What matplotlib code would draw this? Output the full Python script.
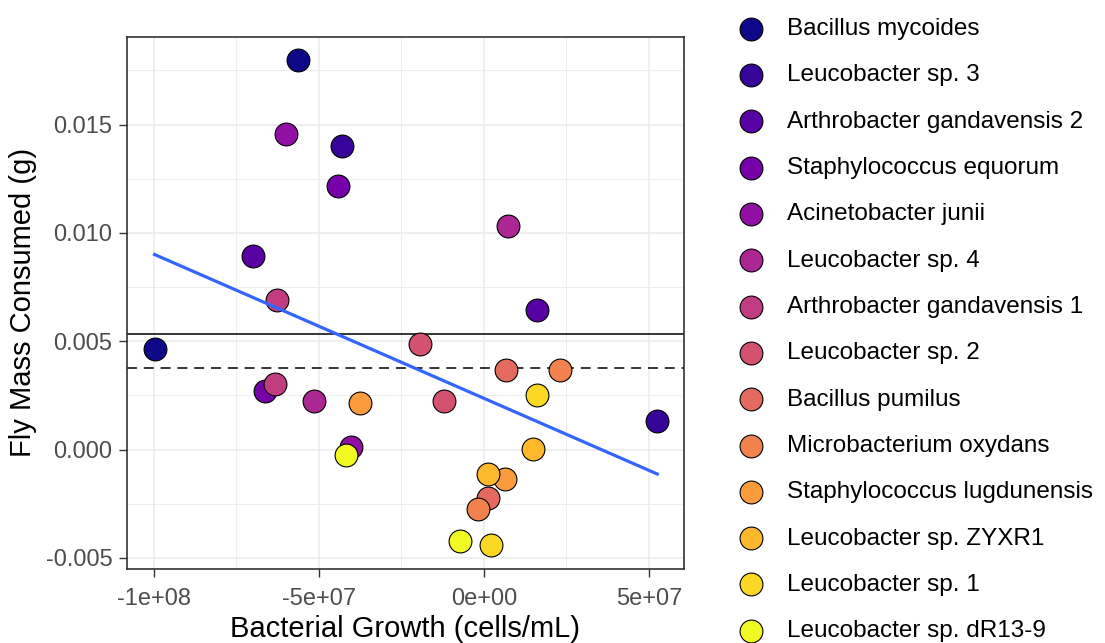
import numpy as np
import matplotlib
matplotlib.use("Agg")
import matplotlib.pyplot as plt

plt.rcParams['font.family'] = ['Liberation Sans', 'DejaVu Sans']
plt.rcParams['axes.unicode_minus'] = False

# ---- Data ----
species = [
    "Bacillus mycoides", "Leucobacter sp. 3", "Arthrobacter gandavensis 2",
    "Staphylococcus equorum", "Acinetobacter junii", "Leucobacter sp. 4",
    "Arthrobacter gandavensis 1", "Leucobacter sp. 2", "Bacillus pumilus",
    "Microbacterium oxydans", "Staphylococcus lugdunensis", "Leucobacter sp. ZYXR1",
    "Leucobacter sp. 1", "Leucobacter sp. dR13-9",
]

# two replicates per species: bacterial growth (cells/mL) and fly mass consumed (g)
growth = [
    [-5.62e7, -9.98e7],
    [-4.30e7, 5.25e7],
    [-7.01e7, 1.62e7],
    [-4.42e7, -6.62e7],
    [-5.99e7, -4.02e7],
    [0.72e7, -5.15e7],
    [-6.28e7, -6.34e7],
    [-1.93e7, -1.22e7],
    [0.66e7, 0.13e7],
    [2.30e7, -0.19e7],
    [-3.75e7, 0.63e7],
    [1.50e7, 0.11e7],
    [1.62e7, 0.21e7],
    [-4.19e7, -0.73e7],
]
mass = [
    [0.01796, 0.00465],
    [0.01399, 0.00134],
    [0.00892, 0.00642],
    [0.01216, 0.00269],
    [0.01454, 0.00011],
    [0.01030, 0.00226],
    [0.00688, 0.00303],
    [0.00485, 0.00226],
    [0.00365, -0.00223],
    [0.00365, -0.00274],
    [0.00216, -0.00135],
    [0.00003, -0.00112],
    [0.00253, -0.00440],
    [-0.00024, -0.00420],
]

solid_line = 0.00534
dashed_line = 0.00377

x_ticks = [-1e8, -5e7, 0, 5e7]
x_tick_labels = ["-1e+08", "-5e+07", "0e+00", "5e+07"]
y_ticks = [-0.005, 0.0, 0.005, 0.010, 0.015]
y_tick_labels = ["-0.005", "0.000", "0.005", "0.010", "0.015"]

# ---- Plot ----
fig = plt.figure(figsize=(11.05, 6.43), dpi=100)
ax = fig.add_axes([0.1149, 0.1151, 0.5041, 0.8281])

colors = plt.cm.plasma(np.linspace(0, 1, len(species)))

ax.axhline(solid_line, color='black', linewidth=1.1, zorder=2)
ax.axhline(dashed_line, color='black', linewidth=1.1, linestyle=(0, (6.5, 4.5)), zorder=2)

handles = []
for name, col, gx, my in zip(species, colors, growth, mass):
    h = ax.scatter(gx, my, s=270, color=col, edgecolors='black', linewidths=0.8,
                   zorder=3, label=name)
    handles.append(h)

# linear fit across all points
all_x = np.concatenate([np.array(g) for g in growth])
all_y = np.concatenate([np.array(m) for m in mass])
slope, intercept = np.polyfit(all_x, all_y, 1)
fit_x = np.array([all_x.min(), all_x.max()])
ax.plot(fit_x, slope * fit_x + intercept, color='#3366FF', linewidth=2.3, zorder=4)

ax.set_xlim(-1.0816e8, 6.06e7)
ax.set_ylim(-0.00551, 0.01906)

ax.set_xticks(x_ticks)
ax.set_xticklabels(x_tick_labels)
ax.set_yticks(y_ticks)
ax.set_yticklabels(y_tick_labels)
ax.set_xticks([-7.5e7, -2.5e7, 2.5e7], minor=True)
ax.set_yticks([-0.0025, 0.0025, 0.0075, 0.0125, 0.0175], minor=True)

ax.grid(True, which='major', color='#EBEBEB', linewidth=1.1, zorder=0)
ax.grid(True, which='minor', color='#EBEBEB', linewidth=0.6, zorder=0)
ax.set_axisbelow(True)

ax.tick_params(axis='both', which='major', length=5.5, width=1, color='#333333',
               labelsize=17, labelcolor='#4D4D4D')
ax.tick_params(axis='x', which='major', pad=8)
ax.tick_params(axis='y', which='major', pad=5)
ax.tick_params(axis='both', which='minor', length=0)
for sp in ax.spines.values():
    sp.set_color('#333333')
    sp.set_linewidth(1.2)

ax.set_xlabel("Bacterial Growth (cells/mL)", fontsize=21, labelpad=4)
ax.set_ylabel("Fly Mass Consumed (g)", fontsize=21, labelpad=6.5)

fig.legend(handles=handles, loc='upper left', bbox_to_anchor=(0.6664, 0.972),
           frameon=False, fontsize=17.5, labelspacing=1.0, handletextpad=0.89,
           handlelength=1.2, borderaxespad=0, borderpad=0, scatterpoints=1)

fig.savefig("out.png", dpi=100)
